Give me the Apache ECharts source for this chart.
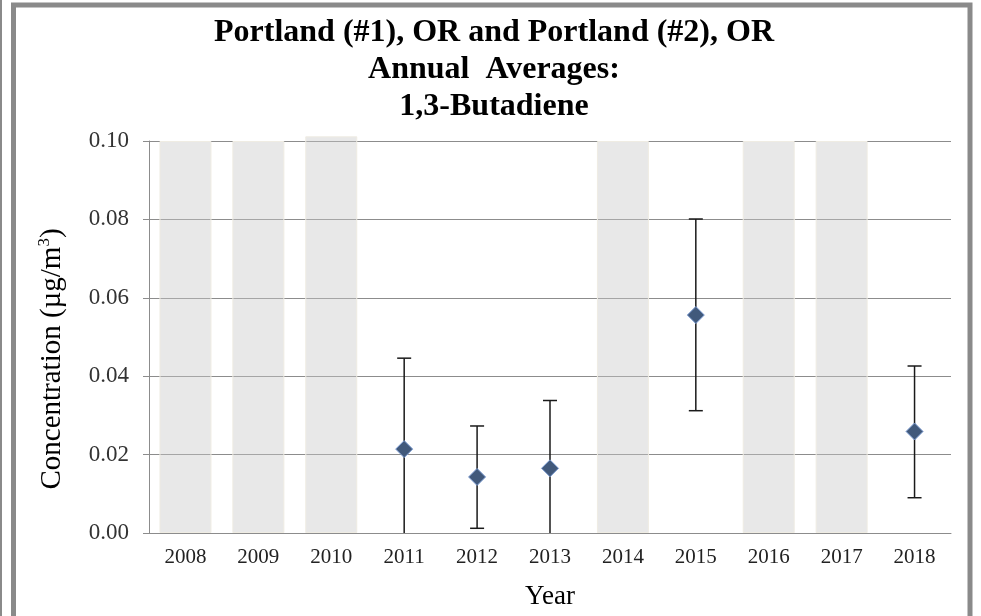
<!DOCTYPE html>
<html>
<head>
<meta charset="utf-8">
<script src="https://cdn.jsdelivr.net/npm/echarts@6/dist/echarts.min.js"></script>
<style>
html, body { margin: 0; padding: 0; background: #fff; }
#chart { width: 981px; height: 616px; }
</style>
</head>
<body>
<div id="chart"></div>
<script>
// data
var years = ['2008', '2009', '2010', '2011', '2012', '2013', '2014', '2015', '2016', '2017', '2018'];
// grey bars = years without data
var noDataBars = [0.100, 0.100, 0.1012, null, null, null, 0.100, null, 0.100, 0.100, null];
var means = [null, null, null, 0.0214, 0.0143, 0.0165, null, 0.0556, null, null, 0.0259];
var lower = [null, null, null, -0.0018, 0.0012, -0.0008, null, 0.0312, null, null, 0.0090];
var upper = [null, null, null, 0.0446, 0.0273, 0.0338, null, 0.0801, null, null, 0.0426];

var serif = '"Liberation Serif", "DejaVu Serif", serif';

var errData = [];
for (var i = 0; i < years.length; i++) {
  if (means[i] != null) errData.push([i, lower[i], upper[i]]);
}

var chart = echarts.init(document.getElementById('chart'));

var option = {
  animation: false,
  backgroundColor: '#fff',
  title: {
    text: 'Portland (#1), OR and Portland (#2), OR\nAnnual  Averages:\n1,3-Butadiene',
    left: 494,
    top: 14,
    padding: 0,
    textAlign: 'center',
    textStyle: {
      fontFamily: serif,
      fontWeight: 'bold',
      fontSize: 32,
      lineHeight: 37,
      color: '#000'
    }
  },
  grid: { left: 149, right: 30, top: 141, bottom: 83 },
  xAxis: {
    type: 'category',
    data: years,
    name: 'Year',
    nameLocation: 'middle',
    nameGap: 50,
    nameTextStyle: { fontFamily: serif, fontSize: 27, color: '#000' },
    axisLine: { lineStyle: { color: '#8c8c8c', width: 1 } },
    axisTick: { length: 6, lineStyle: { color: '#8c8c8c' } },
    axisLabel: { fontFamily: serif, fontSize: 21, color: '#222', margin: 14 },
    splitLine: { show: false }
  },
  yAxis: {
    type: 'value',
    min: 0,
    max: 0.10,
    interval: 0.02,
    axisLine: { show: true, lineStyle: { color: '#8c8c8c', width: 1 } },
    axisTick: { show: true, length: 6, lineStyle: { color: '#8c8c8c' } },
    axisLabel: {
      fontFamily: serif, fontSize: 23, color: '#333', margin: 20,
      formatter: function (v) { return v.toFixed(2); }
    },
    splitLine: { lineStyle: { color: '#8c8c8c', width: 1 } }
  },
  graphic: [
    // frame
    { type: 'rect', shape: { x: 13.5, y: 5, width: 956.5, height: 620 },
      style: { fill: 'none', stroke: '#8a8a8a', lineWidth: 5 }, silent: true },
    { type: 'rect', shape: { x: 0, y: 0, width: 2, height: 616 },
      style: { fill: '#8a8a8a' }, silent: true },
    // y axis name
    { type: 'text', x: 52, y: 359, rotation: Math.PI / 2,
      style: {
        text: '{a|Concentration (µg/m}{s|3}{a|)}',
        align: 'center', verticalAlign: 'middle',
        rich: {
          a: { fontFamily: serif, fontSize: 29, fill: '#000', lineHeight: 32 },
          s: { fontFamily: serif, fontSize: 17, fill: '#000', lineHeight: 32, padding: [0, 0, 14, 0] }
        }
      }
    }
  ],
  series: [
    {
      type: 'bar',
      data: noDataBars.map(function (v) { return v == null ? '-' : v; }),
      barWidth: 52,
      clip: false,
      itemStyle: { color: 'rgba(200,200,200,0.42)', borderColor: '#efece3', borderWidth: 1 },
      silent: true
    },
    {
      type: 'custom',
      data: errData,
      encode: { x: 0, y: [1, 2] },
      clip: true,
      z: 3,
      renderItem: function (params, api) {
        var x = api.value(0);
        var top = api.coord([x, api.value(2)]);
        var bot = api.coord([x, api.value(1)]);
        var cap = 7;
        var st = { stroke: '#1a1a1a', lineWidth: 1.5 };
        return {
          type: 'group',
          children: [
            { type: 'line', shape: { x1: top[0], y1: top[1], x2: bot[0], y2: bot[1] }, style: st },
            { type: 'line', shape: { x1: top[0] - cap, y1: top[1], x2: top[0] + cap, y2: top[1] }, style: st },
            { type: 'line', shape: { x1: bot[0] - cap, y1: bot[1], x2: bot[0] + cap, y2: bot[1] }, style: st }
          ]
        };
      }
    },
    {
      type: 'scatter',
      data: means.map(function (v) { return v == null ? '-' : v; }),
      symbol: 'diamond',
      symbolSize: 17,
      z: 4,
      itemStyle: { color: '#41597b', borderColor: '#7a9ad0', borderWidth: 1, opacity: 1 }
    }
  ]
};

chart.setOption(option);
</script>
</body>
</html>
